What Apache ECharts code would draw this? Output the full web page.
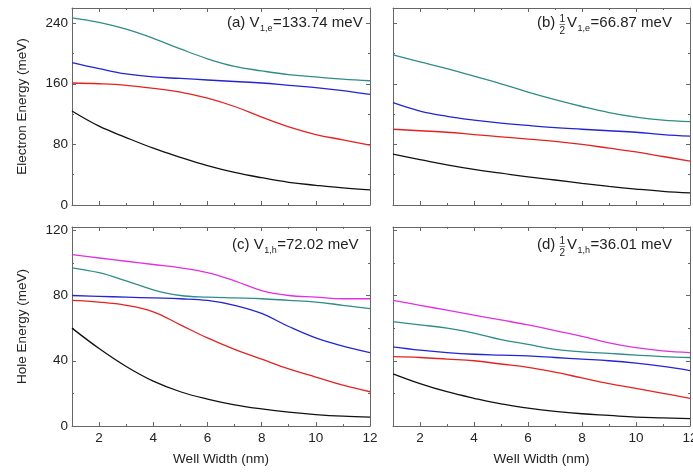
<!DOCTYPE html>
<html>
<head>
<meta charset="utf-8">
<script src="https://cdn.jsdelivr.net/npm/echarts@6/dist/echarts.min.js"></script>
<style>
  html, body { margin: 0; padding: 0; background: #fff; }
  #chart { width: 693px; height: 472px; }
</style>
</head>
<body>
<div id="chart"></div>
<script>
// Well widths (nm) at which the subband energies are sampled
const widths = [1, 2, 3, 4, 5, 6, 7, 8, 9, 10, 11, 12];

// (a) electron levels, full barrier V1,e = 133.74 meV
const elecA_black = [124, 104, 89, 75, 63, 52, 43, 36, 30, 26, 22.5, 20];
const elecA_red   = [161, 160, 158, 154, 149, 141, 130, 116, 103, 93, 86, 79];
const elecA_blue  = [188, 180, 173, 169, 167, 165, 163, 161, 158, 155, 151, 146];
const elecA_teal  = [247, 241, 232, 220, 206, 193, 183, 177, 172, 169, 166, 164];

// (b) electron levels, half barrier 66.87 meV
const elecB_black = [67, 60, 53, 47, 42, 37, 33, 28.5, 24.5, 21, 18, 16];
const elecB_red   = [100, 98, 96, 93, 90, 87, 84, 80, 75, 70, 64, 58];
const elecB_blue  = [135, 124, 117, 112, 108, 105, 102, 100, 98, 96, 93, 91];
const elecB_teal  = [198, 189, 180, 170, 160, 149, 139, 130, 122, 116, 112, 110];

// (c) hole levels, full barrier V1,h = 72.02 meV
const holeC_black   = [60, 47.5, 36.5, 27.5, 21, 16.5, 13, 10.5, 8.5, 7, 6, 5.5];
const holeC_red     = [77, 76, 74, 70, 62, 54, 47, 41, 35, 30, 25, 21];
const holeC_blue    = [80, 79.5, 79, 78.5, 78, 77, 74, 69, 61, 54, 49, 45];
const holeC_teal    = [97, 94, 89, 83.5, 80, 79, 78.5, 78, 77, 76, 74, 72];
const holeC_magenta = [105, 103, 101, 99, 97, 94, 89, 83, 80, 79, 78, 78];

// (d) hole levels, half barrier 36.01 meV
const holeD_black   = [32, 26, 21, 17, 13.5, 11, 9, 7.5, 6.5, 5.5, 5, 4.5];
const holeD_red     = [42.5, 42, 41, 40, 38, 36, 33, 29.5, 26, 23, 20, 17];
const holeD_blue    = [48.5, 46.5, 45, 44, 43.5, 43, 42, 41, 40, 38.5, 36.5, 34];
const holeD_teal    = [64, 62, 60, 57, 53, 50, 47, 45.5, 44.5, 43.5, 42.5, 42];
const holeD_magenta = [77, 74, 71, 68, 65, 62, 58.5, 55, 51, 48, 46, 45];

// Tick positions
const xMajor = [2, 4, 6, 8, 10, 12];
const xMinor = [3, 5, 7, 9, 11];
const yElecMajor = [0, 80, 160, 240];
const yElecMinor = [40, 120, 200];
const yHoleMajor = [0, 40, 80, 120];
const yHoleMinor = [20, 60, 100];

const COLORS = {
  black: '#111111',
  red: '#e52222',
  blue: '#2424d4',
  teal: '#2f8c88',
  magenta: '#e030e0'
};
const FONT = "'Liberation Sans', Arial, sans-serif";
const TEXT = '#222';
const FRAME = '#666';
const TICK_FONT = 13.5;
const NAME_FONT = 13.5;

const panels = [
  { grid: { left: 72, top: 8, width: 298, height: 197 }, yMax: 260,
    yMajor: yElecMajor, yMinor: yElecMinor, yLabels: true, xLabels: false,
    yName: 'Electron Energy (meV)', xName: '',
    lines: [['black', elecA_black], ['red', elecA_red], ['blue', elecA_blue], ['teal', elecA_teal]] },
  { grid: { left: 393, top: 8, width: 297, height: 197 }, yMax: 260,
    yMajor: yElecMajor, yMinor: yElecMinor, yLabels: false, xLabels: false,
    yName: '', xName: '',
    lines: [['black', elecB_black], ['red', elecB_red], ['blue', elecB_blue], ['teal', elecB_teal]] },
  { grid: { left: 72, top: 227, width: 298, height: 199 }, yMax: 122,
    yMajor: yHoleMajor, yMinor: yHoleMinor, yLabels: true, xLabels: true,
    yName: 'Hole Energy (meV)', xName: 'Well Width (nm)',
    lines: [['black', holeC_black], ['red', holeC_red], ['blue', holeC_blue], ['teal', holeC_teal], ['magenta', holeC_magenta]] },
  { grid: { left: 393, top: 227, width: 297, height: 199 }, yMax: 122,
    yMajor: yHoleMajor, yMinor: yHoleMinor, yLabels: false, xLabels: true,
    yName: '', xName: 'Well Width (nm)',
    lines: [['black', holeD_black], ['red', holeD_red], ['blue', holeD_blue], ['teal', holeD_teal], ['magenta', holeD_magenta]] }
];

const grids = [], xAxes = [], yAxes = [], series = [];

function tickAxis(base, values, len, showLine) {
  return Object.assign({
    axisLine: { show: showLine, onZero: false, lineStyle: { color: FRAME, width: 1 } },
    axisTick: { show: true, inside: true, length: len, customValues: values,
                lineStyle: { color: FRAME, width: 1 } },
    axisLabel: { show: false },
    splitLine: { show: false }
  }, base);
}

panels.forEach((p, gi) => {
  grids.push(Object.assign({ containLabel: false, outerBoundsMode: 'none' }, p.grid));

  // x axes: bottom (labelled), bottom minor, top mirror major + minor
  const xBase = { type: 'value', gridIndex: gi, min: 1, max: 12 };
  const xMain = tickAxis(Object.assign({ position: 'bottom' }, xBase), xMajor, 4, true);
  xMain.axisLabel = {
    show: p.xLabels, customValues: xMajor, margin: 5,
    color: TEXT, fontFamily: FONT, fontSize: TICK_FONT
  };
  if (p.xName) {
    xMain.name = p.xName;
    xMain.nameLocation = 'middle';
    xMain.nameGap = 26;
    xMain.nameTextStyle = { color: TEXT, fontFamily: FONT, fontSize: NAME_FONT };
  }
  const xMainIndex = xAxes.length;
  xAxes.push(xMain);
  xAxes.push(tickAxis(Object.assign({ position: 'bottom' }, xBase), xMinor, 2, false));
  xAxes.push(tickAxis(Object.assign({ position: 'top' }, xBase), xMajor, 4, true));
  xAxes.push(tickAxis(Object.assign({ position: 'top' }, xBase), xMinor, 2, false));

  // y axes: left (labelled), left minor, right mirror major + minor
  const yBase = { type: 'value', gridIndex: gi, min: 0, max: p.yMax };
  const yMain = tickAxis(Object.assign({ position: 'left' }, yBase), p.yMajor, 4, true);
  yMain.axisLabel = {
    show: p.yLabels, customValues: p.yMajor, margin: 4,
    color: TEXT, fontFamily: FONT, fontSize: TICK_FONT
  };
  if (p.yName) {
    yMain.name = p.yName;
    yMain.nameLocation = 'middle';
    yMain.nameGap = 43;
    yMain.nameRotate = 90;
    yMain.nameTextStyle = { color: TEXT, fontFamily: FONT, fontSize: NAME_FONT };
  }
  const yMainIndex = yAxes.length;
  yAxes.push(yMain);
  yAxes.push(tickAxis(Object.assign({ position: 'left' }, yBase), p.yMinor, 2, false));
  yAxes.push(tickAxis(Object.assign({ position: 'right' }, yBase), p.yMajor, 4, true));
  yAxes.push(tickAxis(Object.assign({ position: 'right' }, yBase), p.yMinor, 2, false));

  p.lines.forEach(([c, vals]) => {
    series.push({
      type: 'line',
      xAxisIndex: xMainIndex,
      yAxisIndex: yMainIndex,
      data: widths.map((w, i) => [w, vals[i]]),
      smooth: 0.4,
      symbol: 'none',
      lineStyle: { color: COLORS[c], width: 1.3 },
      silent: true,
      z: 3
    });
  });
});

// ---- panel captions (built from measured pieces) ----
const measureCtx = document.createElement('canvas').getContext('2d');
function textWidth(str, size) {
  measureCtx.font = size + 'px ' + FONT;
  return measureCtx.measureText(str).width;
}

const MAIN = 15, SUB = 9, FRAC = 10;

// pieces: list of {t, kind} with kind 'n' normal, 's' subscript, 'f' stacked 1/2
function caption(x, y, pieces) {
  const els = [];
  let cx = x;
  pieces.forEach(pc => {
    if (pc.kind === 'n') {
      els.push({ type: 'text', x: cx, y: y, style: {
        text: pc.t, fill: TEXT, font: MAIN + 'px ' + FONT,
        textAlign: 'left', textVerticalAlign: 'middle' } });
      cx += textWidth(pc.t, MAIN);
    } else if (pc.kind === 's') {
      els.push({ type: 'text', x: cx + 0.5, y: y + 6, style: {
        text: pc.t, fill: TEXT, font: SUB + 'px ' + FONT,
        textAlign: 'left', textVerticalAlign: 'middle' } });
      cx += textWidth(pc.t, SUB) + 1;
    } else if (pc.kind === 'f') {
      const w = textWidth('2', FRAC);
      els.push({ type: 'text', x: cx + w / 2, y: y - 4, style: {
        text: '1', fill: TEXT, font: FRAC + 'px ' + FONT,
        textAlign: 'center', textVerticalAlign: 'middle' } });
      els.push({ type: 'line', shape: { x1: cx, y1: y + 1.5, x2: cx + w, y2: y + 1.5 },
        style: { stroke: TEXT, lineWidth: 0.6 } });
      els.push({ type: 'text', x: cx + w / 2, y: y + 8, style: {
        text: '2', fill: TEXT, font: FRAC + 'px ' + FONT,
        textAlign: 'center', textVerticalAlign: 'middle' } });
      cx += w + 2;
    }
  });
  return els;
}

const graphics = [].concat(
  caption(227, 23, [{ t: '(a) V', kind: 'n' }, { t: '1,e', kind: 's' }, { t: '=133.74 meV', kind: 'n' }]),
  caption(537, 23, [{ t: '(b) ', kind: 'n' }, { t: '', kind: 'f' }, { t: 'V', kind: 'n' }, { t: '1,e', kind: 's' }, { t: '=66.87 meV', kind: 'n' }]),
  caption(232, 245, [{ t: '(c) V', kind: 'n' }, { t: '1,h', kind: 's' }, { t: '=72.02 meV', kind: 'n' }]),
  caption(537, 245, [{ t: '(d) ', kind: 'n' }, { t: '', kind: 'f' }, { t: 'V', kind: 'n' }, { t: '1,h', kind: 's' }, { t: '=36.01 meV', kind: 'n' }])
);

const chart = echarts.init(document.getElementById('chart'), null, { renderer: 'canvas' });
chart.setOption({
  animation: false,
  backgroundColor: '#fff',
  grid: grids,
  xAxis: xAxes,
  yAxis: yAxes,
  series: series,
  graphic: graphics
});
</script>
</body>
</html>
